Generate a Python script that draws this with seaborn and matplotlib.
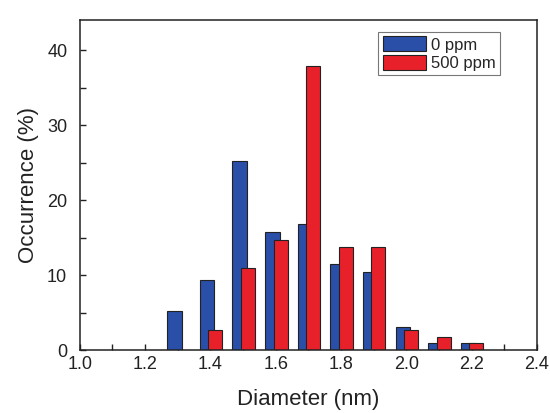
import numpy as np
import matplotlib
matplotlib.use('Agg')
import matplotlib.pyplot as plt
from matplotlib.ticker import MultipleLocator, FormatStrFormatter
import seaborn as sns

# size distribution
diameter = np.array([1.3, 1.4, 1.5, 1.6, 1.7, 1.8, 1.9, 2.0, 2.1, 2.2])
occ_0ppm = [5.2, 9.4, 25.2, 15.7, 16.8, 11.5, 10.4, 3.1, 1.0, 1.0]
occ_500ppm = [0.0, 2.7, 11.0, 14.7, 37.9, 13.7, 13.7, 2.7, 1.8, 0.9]
series_labels = ['0 ppm', '500 ppm']

sns.set_style('ticks')
plt.rcParams['font.family'] = ['Liberation Sans', 'DejaVu Sans']

fig = plt.figure(figsize=(5.5, 4.13), dpi=100)
ax = fig.add_axes([0.145, 0.1525, 0.831, 0.799])

sns.barplot(x=diameter - 0.01, y=occ_0ppm, native_scale=True, width=0.45,
            color='#2a4fa8', saturation=1, edgecolor='#222222', linewidth=0.8,
            errorbar=None, label=series_labels[0], ax=ax)
sns.barplot(x=diameter + 0.015, y=occ_500ppm, native_scale=True, width=0.43,
            color='#e8202a', saturation=1, edgecolor='#222222', linewidth=0.8,
            errorbar=None, label=series_labels[1], ax=ax)

ax.set_xlim(1.0, 2.4)
ax.set_ylim(0, 44)
ax.xaxis.set_major_locator(MultipleLocator(0.2))
ax.xaxis.set_minor_locator(MultipleLocator(0.1))
ax.yaxis.set_major_locator(MultipleLocator(10))
ax.yaxis.set_minor_locator(MultipleLocator(5))
ax.xaxis.set_major_formatter(FormatStrFormatter('%.1f'))
ax.tick_params(which='both', direction='in', length=4, width=1, labelsize=13,
               top=False, right=False, colors='#222222')
ax.tick_params(axis='x', which='major', pad=4)
ax.tick_params(axis='y', which='major', pad=9)
for s in ax.spines.values():
    s.set_linewidth(1.1)
    s.set_color('#222222')

ax.set_xlabel('Diameter (nm)', fontsize=16, labelpad=12, color='#222222')
ax.set_ylabel('Occurrence (%)', fontsize=16, labelpad=6, color='#222222')

leg = ax.legend(loc='upper right', bbox_to_anchor=(0.93, 0.978), fontsize=12,
                frameon=True, fancybox=False, handlelength=2.6, handleheight=1.0,
                handletextpad=0.3, borderpad=0.25, labelspacing=0.15,
                borderaxespad=0.3)
leg.get_frame().set_edgecolor('#555555')
leg.get_frame().set_linewidth(0.8)

fig.savefig('out.png', dpi=100)
